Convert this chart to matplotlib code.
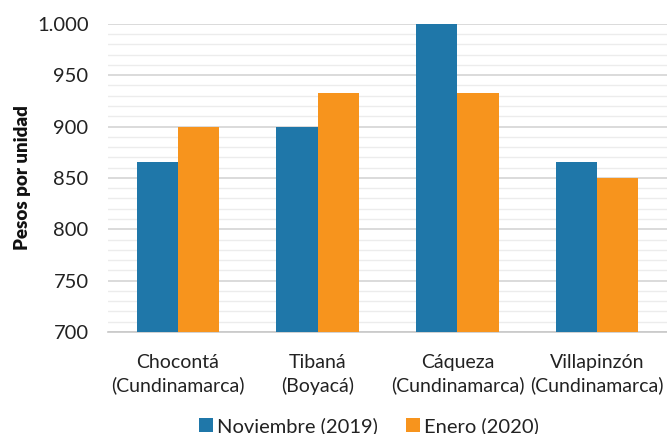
import matplotlib
matplotlib.use("Agg")
import matplotlib.pyplot as plt
import numpy as np
from matplotlib.ticker import MultipleLocator, FuncFormatter

categories = ["Chocontá\n(Cundinamarca)", "Tibaná\n(Boyacá)", "Cáqueza\n(Cundinamarca)", "Villapinzón\n(Cundinamarca)"]
series_names = ["Noviembre (2019)", "Enero (2020)"]
nov_2019 = [866, 900, 1000, 866]
ene_2020 = [900, 933, 933, 850]
colors = ["#1f77a9", "#f7941d"]

plt.rcParams['font.family'] = ['Lato', 'DejaVu Sans']

fig = plt.figure(figsize=(6.67, 4.34), dpi=100)
ax = fig.add_axes([0.162, 0.235, 0.838, 0.71])

x = np.arange(len(categories))
w = 0.295
ax.bar(x - w/2, nov_2019, width=w, color=colors[0], label=series_names[0], zorder=3)
ax.bar(x + w/2, ene_2020, width=w, color=colors[1], label=series_names[1], zorder=3)

ax.set_xlim(-0.5, 3.5)
ax.set_ylim(700, 1000)
ax.yaxis.set_major_locator(MultipleLocator(50))
ax.yaxis.set_minor_locator(MultipleLocator(10))
ax.yaxis.set_major_formatter(FuncFormatter(lambda v, p: f"{int(v):,}".replace(",", ".")))
ax.grid(axis='y', which='major', color='#d4d4d4', linewidth=1.2, zorder=0)
ax.grid(axis='y', which='minor', color='#ececec', linewidth=1.0, zorder=0)
ax.set_axisbelow(True)

for s in ['top', 'right', 'left']:
    ax.spines[s].set_visible(False)
ax.spines['bottom'].set_color('#c8c8c8')
ax.spines['bottom'].set_linewidth(1.2)

ax.set_xticks(x)
ax.set_xticklabels(categories, fontsize=14, color='#222222', linespacing=1.35)
ax.tick_params(axis='both', which='both', length=0)
ax.tick_params(axis='x', pad=16)
ax.tick_params(axis='y', labelsize=14.5, labelcolor='#222222', pad=14)

ax.set_ylabel("Pesos por unidad", fontsize=13.5, fontweight='heavy', color='#111111', labelpad=4)

fig.legend(loc='center', bbox_to_anchor=(0.553, 0.018), ncol=2, frameon=False,
           fontsize=14.5, handlelength=0.7, handleheight=0.7, handletextpad=0.2,
           columnspacing=1.4, labelcolor='#222222')

fig.savefig("out.png", dpi=100)
